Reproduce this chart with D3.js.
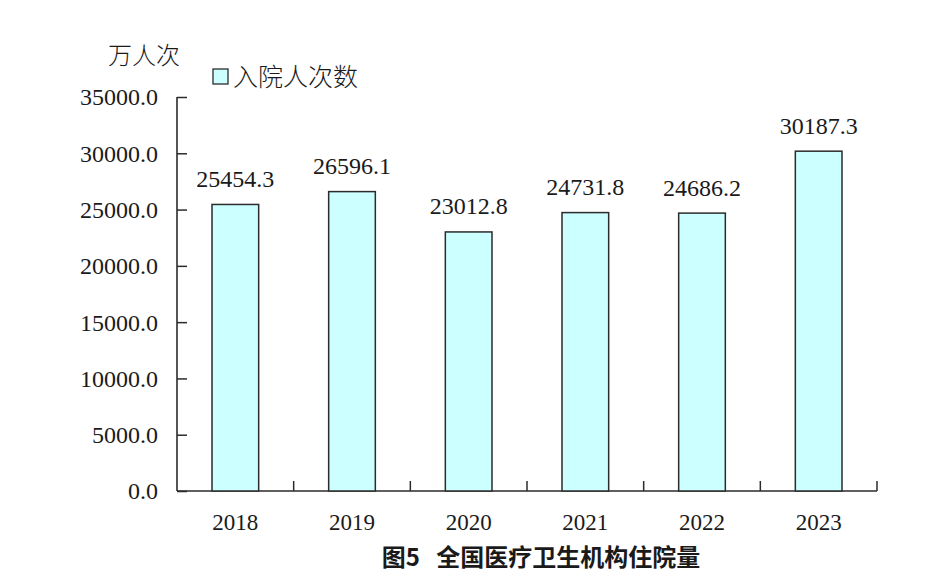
<!DOCTYPE html>
<html><head><meta charset="utf-8">
<script src="https://cdn.jsdelivr.net/npm/d3@7"></script>
<style>body{margin:0;background:#fff}</style>
</head><body>
<svg id="c" width="937" height="581"></svg>
<script>
const years = ["2018","2019","2020","2021","2022","2023"];
const admissions = [25454.3, 26596.1, 23012.8, 24731.8, 24686.2, 30187.3];
const yTicks = [0,5000,10000,15000,20000,25000,30000,35000];
const unitLabel = "万人次";
const seriesName = "入院人次数";
const chartTitle = "图5\u00a0\u00a0\u00a0全国医疗卫生机构住院量";

(function(){
const svg = d3.select("#c");
const pl = 177, pr = 877, pt = 97, pb = 491;
const x = d3.scaleBand().domain(years).range([pl, pr]).paddingInner(0.6).paddingOuter(0.3);
const y = d3.scaleLinear().domain([0, 35000]).range([pb, pt]);
const ink = "#2b2b2b";
const txt = "#1a1a1a";
const serif = "'Liberation Serif','Times New Roman',serif";
const cjk = "'Noto Sans CJK SC',sans-serif";

// y axis (ticks point inward)
const ya = svg.append("g").attr("transform", `translate(${pl},0)`)
  .call(d3.axisRight(y).tickValues(yTicks).tickSize(10).tickFormat(""));
ya.select(".domain").remove();
ya.selectAll("line").attr("stroke", ink).attr("stroke-width", 1.5);
svg.append("line").attr("x1", pl).attr("x2", pl).attr("y1", pt).attr("y2", pb).attr("stroke", ink).attr("stroke-width", 1.6);
svg.append("g").selectAll("text").data(yTicks).join("text")
  .attr("x", 158).attr("y", d => y(d)).attr("dy", "0.35em")
  .attr("text-anchor", "end").attr("font-family", serif).attr("font-size", 24).attr("fill", txt)
  .text(d => d3.format(".1f")(d));

// x axis
const bw = x.step();
svg.append("line").attr("x1", pl).attr("x2", pr).attr("y1", pb).attr("y2", pb).attr("stroke", ink).attr("stroke-width", 1.6);
svg.append("g").selectAll("line").data(d3.range(1, years.length + 1)).join("line")
  .attr("x1", i => pl + i * bw).attr("x2", i => pl + i * bw)
  .attr("y1", pb).attr("y2", pb - 10).attr("stroke", ink).attr("stroke-width", 1.5);
svg.append("g").selectAll("text").data(years).join("text")
  .attr("x", d => x(d) + x.bandwidth() / 2).attr("y", 522).attr("dy", "0.35em")
  .attr("text-anchor", "middle").attr("font-family", serif).attr("font-size", 23).attr("fill", txt)
  .text(d => d);

// bars
svg.append("g").selectAll("rect").data(years).join("rect")
  .attr("x", (d) => x(d)).attr("width", x.bandwidth())
  .attr("y", (d, i) => y(admissions[i])).attr("height", (d, i) => pb - y(admissions[i]))
  .attr("fill", "#ccffff").attr("stroke", ink).attr("stroke-width", 1.5);

// value labels
svg.append("g").selectAll("text").data(years).join("text")
  .attr("x", d => x(d) + x.bandwidth() / 2).attr("y", (d, i) => y(admissions[i]) - 26).attr("dy", "0.35em")
  .attr("text-anchor", "middle").attr("font-family", serif).attr("font-size", 24).attr("fill", txt)
  .text((d, i) => d3.format(".1f")(admissions[i]));

// unit
svg.append("text").attr("x", 108).attr("y", 56).attr("dy", "0.35em")
  .attr("font-family", cjk).attr("font-weight", 300).attr("font-size", 24).attr("fill", txt).text(unitLabel);

// legend
svg.append("rect").attr("x", 213).attr("y", 69).attr("width", 15).attr("height", 15)
  .attr("fill", "#ccffff").attr("stroke", ink).attr("stroke-width", 1.3);
svg.append("text").attr("x", 233).attr("y", 77).attr("dy", "0.35em")
  .attr("font-family", cjk).attr("font-weight", 300).attr("font-size", 25).attr("fill", txt).text(seriesName);

// title
svg.append("text").attr("x", 541).attr("y", 558).attr("dy", "0.35em").attr("text-anchor", "middle")
  .attr("font-family", cjk).attr("font-weight", 700).attr("font-size", 24).attr("fill", txt)
  .text(chartTitle);
})();
</script>
</body></html>
